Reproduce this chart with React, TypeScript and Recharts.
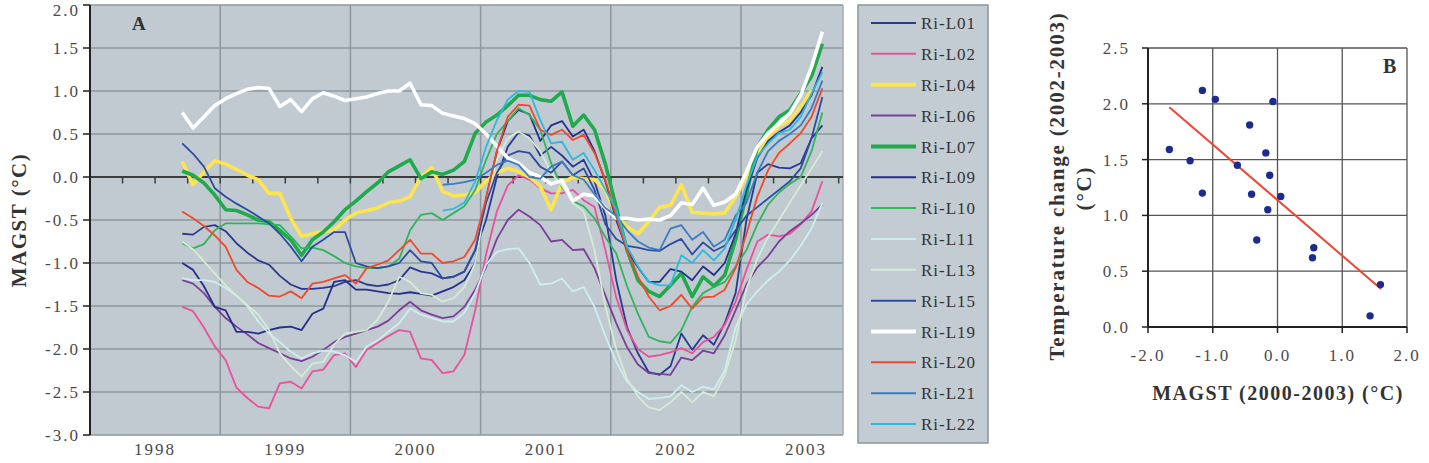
import React from 'react';
import {
  LineChart, Line, XAxis, YAxis, CartesianGrid, ReferenceLine,
  ScatterChart, Scatter,
} from 'recharts';

const serif = "'Liberation Serif', 'Times New Roman', serif";

// ---- Panel A: monthly running means, Sep 1998 - Aug 2003 ----
// x axis counts months from Jan 1998, a month is drawn at its centre
const firstMonth = 8; // Sep 1998
const monthCount = 60;
const yearTicks = [6, 18, 30, 42, 54, 66];
const yearLabels = ['1998', '1999', '2000', '2001', '2002', '2003'];
const yearBounds = [12, 24, 36, 48, 60];
const quarterTicks = [3, 6, 9, 12, 15, 18, 21, 24, 27, 30, 33, 36, 39, 42, 45, 48, 51, 54, 57, 60, 63, 66, 69];
const magstTicks = [-3, -2.5, -2, -1.5, -1, -0.5, 0, 0.5, 1, 1.5, 2];

const riL01 = [
  -0.66, -0.67, -0.58, -0.56, -0.63, -0.77, -0.88, -0.97, -1.02, -1.15, -1.25, -1.30,
  -1.30, -1.29, -1.27, -1.22, -1.20, -1.25, -1.27, -1.25, -1.20, -1.05, -1.10, -1.12,
  -1.18, -1.16, -1.10, -0.85, -0.50, 0.00, 0.35, 0.52, 0.48, 0.25, 0.35, 0.25,
  0.12, 0.20, -0.05, -0.45, -1.20, -1.75, -2.05, -2.27, -2.30, -2.20, -1.82, -2.01,
  -1.84, -1.95, -1.70, -1.35, -0.50, 0.05, 0.15, 0.11, 0.10, 0.16, 0.45, 0.60,
];
const riL02 = [
  -1.51, -1.56, -1.75, -1.97, -2.13, -2.45, -2.57, -2.67, -2.69, -2.40, -2.38, -2.46,
  -2.26, -2.24, -2.07, -2.05, -2.21, -2.01, -1.93, -1.85, -1.78, -1.80, -2.11, -2.13,
  -2.28, -2.26, -2.07, -1.55, -0.90, -0.40, -0.10, 0.02, -0.03, -0.13, -0.19, -0.19,
  -0.15, -0.27, -0.35, -0.85, -1.40, -1.78, -2.00, -2.09, -2.07, -2.04, -1.99, -2.05,
  -1.92, -1.86, -1.72, -1.45, -1.08, -0.75, -0.67, -0.69, -0.66, -0.55, -0.40, -0.05,
];
const riL04 = [
  0.18, -0.09, 0.06, 0.19, 0.15, 0.09, 0.02, -0.03, -0.19, -0.19, -0.48, -0.69,
  -0.66, -0.63, -0.62, -0.50, -0.42, -0.39, -0.36, -0.30, -0.28, -0.23, 0.00, 0.11,
  -0.17, -0.22, -0.21, -0.18, -0.05, 0.05, 0.10, 0.06, 0.00, -0.11, -0.38, -0.07,
  0.00, -0.02, -0.03, -0.15, -0.45, -0.58, -0.66, -0.52, -0.35, -0.33, -0.09, -0.41,
  -0.42, -0.43, -0.42, -0.23, 0.00, 0.24, 0.47, 0.59, 0.66, 0.82, 1.01,
];
const riL06 = [
  -1.20, -1.24, -1.35, -1.51, -1.64, -1.74, -1.83, -1.93, -1.99, -2.05, -2.11, -2.14,
  -2.09, -2.01, -1.92, -1.86, -1.82, -1.78, -1.74, -1.67, -1.55, -1.45, -1.55, -1.60,
  -1.64, -1.62, -1.51, -1.31, -1.05, -0.72, -0.50, -0.38, -0.46, -0.56, -0.75, -0.73,
  -0.85, -0.84, -1.06, -1.38, -1.70, -1.98, -2.18, -2.28, -2.29, -2.30, -2.10, -2.13,
  -2.02, -2.05, -1.84, -1.55, -1.25, -1.05, -0.92, -0.75, -0.63, -0.54, -0.44, -0.32,
];
const riL07 = [
  0.07, 0.02, -0.07, -0.21, -0.38, -0.39, -0.44, -0.50, -0.52, -0.62, -0.73, -0.91,
  -0.73, -0.64, -0.52, -0.38, -0.28, -0.17, -0.07, 0.06, 0.13, 0.20, -0.02, 0.06,
  0.03, 0.08, 0.18, 0.51, 0.64, 0.72, 0.83, 0.95, 0.95, 0.90, 0.88, 0.99,
  0.59, 0.72, 0.55, 0.15, -0.35, -0.85, -1.20, -1.33, -1.39, -1.26, -1.12, -1.39,
  -1.16, -1.27, -1.14, -0.73, -0.20, 0.35, 0.55, 0.70, 0.78, 0.97, 1.17, 1.55,
];
const riL09 = [
  -1.00, -1.08, -1.27, -1.51, -1.55, -1.80, -1.80, -1.82, -1.78, -1.75, -1.74, -1.78,
  -1.59, -1.53, -1.22, -1.20, -1.31, -1.31, -1.33, -1.35, -1.36, -1.34, -1.36, -1.38,
  -1.33, -1.28, -1.20, -1.00, -0.25, 0.30, 0.65, 0.78, 0.73, 0.42, 0.60, 0.65,
  0.47, 0.55, 0.30, -0.05, -0.50, -0.85, -1.05, -1.22, -1.22, -1.07, -1.10, -1.20,
  -1.04, -1.14, -1.00, -0.66, -0.15, 0.22, 0.42, 0.52, 0.60, 0.75, 0.95, 1.28,
];
const riL10 = [
  -0.77, -0.83, -0.78, -0.62, -0.54, -0.54, -0.54, -0.54, -0.55, -0.56, -0.69, -0.83,
  -0.82, -0.85, -0.92, -1.00, -1.04, -1.06, -1.06, -1.04, -0.95, -0.62, -0.44, -0.42,
  -0.50, -0.42, -0.34, -0.15, 0.20, 0.50, 0.65, 0.80, 0.72, 0.55, 0.16, -0.12,
  -0.28, -0.34, -0.48, -0.70, -0.89, -1.27, -1.59, -1.86, -1.91, -1.93, -1.78, -1.51,
  -1.35, -1.28, -1.22, -1.04, -0.85, -0.55, -0.32, -0.18, -0.08, 0.00, 0.30, 0.75,
];
const riL11 = [
  -1.18, -1.20, -1.20, -1.22, -1.29, -1.38, -1.50, -1.68, -1.82, -1.92, -2.03, -2.11,
  -2.05, -2.02, -2.03, -2.07, -2.15, -1.97, -1.90, -1.80, -1.70, -1.53, -1.60, -1.64,
  -1.68, -1.68, -1.58, -1.35, -1.02, -0.87, -0.84, -0.83, -1.00, -1.25, -1.24, -1.18,
  -1.33, -1.28, -1.51, -1.85, -2.15, -2.38, -2.50, -2.58, -2.57, -2.55, -2.42, -2.50,
  -2.44, -2.47, -2.25, -1.75, -1.48, -1.33, -1.20, -1.10, -0.97, -0.80, -0.60, -0.30,
];
const riL13 = [
  -0.75, -0.84, -0.98, -1.12, -1.26, -1.38, -1.49, -1.60, -1.78, -2.05, -2.20, -2.32,
  -2.17, -2.15, -1.95, -1.82, -1.80, -1.78, -1.66, -1.45, -1.16, -1.22, -1.35, -1.37,
  -1.45, -1.41, -1.28, -1.00, -0.30, 0.20, 0.45, 0.53, 0.45, 0.30, 0.05, -0.10,
  -0.30, -0.40, -0.85, -1.50, -2.00, -2.35, -2.55, -2.68, -2.71, -2.62, -2.50, -2.62,
  -2.50, -2.55, -2.30, -1.90, -1.30, -0.95, -0.70, -0.50, -0.30, -0.10, 0.10, 0.30,
];
const riL15 = [
  0.39, 0.27, 0.12, -0.13, -0.23, -0.31, -0.38, -0.46, -0.54, -0.66, -0.81, -0.98,
  -0.81, -0.73, -0.64, -0.64, -1.00, -1.04, -1.06, -1.04, -1.00, -0.85, -0.98, -1.00,
  -1.18, -1.16, -1.10, -0.85, -0.30, 0.05, 0.25, 0.30, 0.28, 0.12, 0.05, 0.18,
  0.02, 0.10, -0.15, -0.55, -0.72, -0.80, -0.82, -0.85, -0.86, -0.78, -0.72, -0.90,
  -0.76, -0.86, -0.80, -0.62, -0.45, -0.35, -0.25, -0.15, -0.05, 0.10, 0.45, 0.93,
];
const riL19 = [
  0.75, 0.57, 0.70, 0.83, 0.91, 0.97, 1.02, 1.04, 1.03, 0.82, 0.90, 0.76,
  0.91, 0.98, 0.94, 0.89, 0.91, 0.93, 0.97, 1.00, 1.00, 1.09, 0.84, 0.83,
  0.74, 0.71, 0.68, 0.62, 0.50, 0.36, 0.22, 0.16, 0.05, 0.00, -0.08, -0.04,
  -0.28, -0.20, -0.22, -0.36, -0.48, -0.48, -0.50, -0.49, -0.50, -0.45, -0.30, -0.32,
  -0.13, -0.33, -0.29, -0.20, 0.06, 0.35, 0.51, 0.62, 0.74, 0.95, 1.28, 1.69,
];
const riL20 = [
  -0.40, -0.48, -0.57, -0.68, -0.81, -1.08, -1.22, -1.29, -1.38, -1.39, -1.33, -1.41,
  -1.24, -1.22, -1.18, -1.14, -1.24, -1.06, -1.02, -0.97, -0.85, -0.73, -0.89, -0.89,
  -1.00, -0.98, -0.93, -0.73, -0.25, 0.30, 0.70, 0.84, 0.83, 0.55, 0.49, 0.55,
  0.43, 0.49, 0.28, -0.03, -0.46, -0.85, -1.16, -1.39, -1.55, -1.50, -1.37, -1.53,
  -1.40, -1.39, -1.31, -1.06, -0.66, -0.23, 0.08, 0.28, 0.39, 0.51, 0.70, 1.03,
];
// Ri-L21 and Ri-L22 only start with the Sep 1999 + 16 months value (Jan 2000)
const riL21 = [
  -0.09, -0.08, -0.06, -0.03, 0.05, 0.14, 0.19, 0.14, 0.00, -0.02, 0.12, 0.18,
  0.02, -0.03, -0.20, -0.36, -0.45, -0.62, -0.75, -0.82, -0.85, -0.60, -0.56, -0.73,
  -0.64, -0.81, -0.73, -0.45, -0.30, 0.05, 0.30, 0.42, 0.50, 0.60, 0.80, 1.12,
];
const riL22 = [
  -0.39, -0.37, -0.30, -0.05, 0.35, 0.66, 0.90, 1.00, 0.99, 0.66, 0.39, 0.41,
  0.20, 0.28, 0.08, -0.15, -0.38, -0.81, -1.04, -1.22, -1.26, -1.26, -0.91, -1.00,
  -0.85, -0.97, -0.83, -0.50, -0.10, 0.24, 0.39, 0.51, 0.55, 0.70, 0.97, 1.22,
];

const seriesA = [
  { name: 'Ri-L01', values: riL01, start: 0, color: '#2b3990', width: 1.8 },
  { name: 'Ri-L02', values: riL02, start: 0, color: '#ec4f9c', width: 1.8 },
  { name: 'Ri-L04', values: riL04, start: 0, color: '#fde54e', width: 3.6 },
  { name: 'Ri-L06', values: riL06, start: 0, color: '#7a3f98', width: 1.8 },
  { name: 'Ri-L07', values: riL07, start: 0, color: '#1faa4b', width: 3.6 },
  { name: 'Ri-L09', values: riL09, start: 0, color: '#252f8c', width: 1.8 },
  { name: 'Ri-L10', values: riL10, start: 0, color: '#30b45c', width: 1.8 },
  { name: 'Ri-L11', values: riL11, start: 0, color: '#cdeef0', width: 1.8 },
  { name: 'Ri-L13', values: riL13, start: 0, color: '#d4ebd4', width: 1.8 },
  { name: 'Ri-L15', values: riL15, start: 0, color: '#2f4ba0', width: 1.8 },
  { name: 'Ri-L19', values: riL19, start: 0, color: '#ffffff', width: 3.6 },
  { name: 'Ri-L20', values: riL20, start: 0, color: '#ef4a2b', width: 1.8 },
  { name: 'Ri-L21', values: riL21, start: 24, color: '#3a7cc3', width: 1.8 },
  { name: 'Ri-L22', values: riL22, start: 24, color: '#2cb9dc', width: 1.8 },
];

const rowsA = Array.from({ length: monthCount }, (_, i) => {
  const row: Record<string, number | null> = { m: firstMonth + i + 0.5 };
  seriesA.forEach((s) => {
    const v = s.values[i - s.start];
    row[s.name] = v === undefined ? null : v;
  });
  return row;
});

// ---- Panel B: one point per logger ----
const magst0003 = [-1.67, -1.35, -1.16, -0.96, -1.16, -0.62, -0.43, -0.40, -0.32, -0.18, -0.12, -0.15, -0.07, 0.05, 0.56, 0.54, 1.59, 1.43];
const change0203 = [1.59, 1.49, 2.12, 2.04, 1.20, 1.45, 1.81, 1.19, 0.78, 1.56, 1.36, 1.05, 2.02, 1.17, 0.71, 0.62, 0.38, 0.10];
const trendEnds = [{ x: -1.67, y: 1.97 }, { x: 1.6, y: 0.34 }];
const bxTicks = [-2, -1, 0, 1, 2];
const byTicks = [0, 0.5, 1, 1.5, 2, 2.5];

const pointsB = magst0003.map((x, i) => ({ x, y: change0203[i] }));

const tickStyle = { fontSize: 17, fill: '#4a4a4a', fontFamily: serif, letterSpacing: 2 };
const gridA = '#8d989e';

const titleStyle: React.CSSProperties = {
  position: 'absolute',
  fontFamily: serif,
  fontWeight: 'bold',
  fontSize: 20,
  letterSpacing: 1.5,
  color: '#333',
  whiteSpace: 'nowrap',
  lineHeight: 1,
};

const Legend = () => (
  <svg width={134} height={442} style={{ position: 'absolute', left: 857, top: 4 }}>
    <rect x={1} y={1} width={130} height={438} fill="#c2ccd2" stroke="#8c969b" strokeWidth={1.5} />
    {seriesA.map((s, k) => {
      const y = 19 + k * 30.85;
      return (
        <g key={s.name}>
          <line x1={14} x2={59} y1={y} y2={y} stroke={s.color} strokeWidth={s.width > 3 ? 4 : 2} />
          <text x={64} y={y} dy="0.36em" fontFamily={serif} fontSize={17} letterSpacing={1} fill="#333">
            {s.name}
          </text>
        </g>
      );
    })}
  </svg>
);

export default function App() {
  return (
    <div style={{ position: 'absolute', left: 0, top: 0, width: 1429, height: 463, background: '#fff', overflow: 'hidden' }}>
      <div style={{ position: 'absolute', left: 0, top: 0 }}>
        <LineChart width={850} height={463} data={rowsA} margin={{ top: 5, right: 7, bottom: 0, left: 0 }}>
          <CartesianGrid horizontal vertical={false} stroke={gridA} strokeWidth={1.5} fill="#c0cad0" />
          <XAxis
            type="number"
            dataKey="m"
            domain={[0, 69.4]}
            ticks={yearTicks}
            tickFormatter={(v: number) => yearLabels[yearTicks.indexOf(v)]}
            axisLine={false}
            tickLine={false}
            tickSize={0}
            tickMargin={8}
            height={28}
            tick={tickStyle}
            allowDataOverflow
          />
          <YAxis
            type="number"
            domain={[-3, 2]}
            ticks={magstTicks}
            tickFormatter={(v: number) => v.toFixed(1)}
            width={90}
            axisLine={{ stroke: '#222', strokeWidth: 2 }}
            tickLine={{ stroke: '#222', strokeWidth: 1.5 }}
            tickSize={7}
            tickMargin={3}
            tick={tickStyle}
            allowDataOverflow
          />
          {yearBounds.map((x) => (
            <ReferenceLine key={x} x={x} stroke={gridA} strokeWidth={1.5} />
          ))}
          <ReferenceLine x={69.4} stroke="#a2adb2" strokeWidth={1.5} />
          <ReferenceLine y={0} stroke="#3d3d3d" strokeWidth={2} />
          {quarterTicks.map((x) => (
            <ReferenceLine key={'q' + x} segment={[{ x, y: 0 }, { x, y: -0.075 }]} stroke="#3d3d3d" strokeWidth={1.5} />
          ))}
          {seriesA.map((s) => (
            <Line
              key={s.name}
              type="linear"
              dataKey={s.name}
              stroke={s.color}
              strokeWidth={s.width}
              strokeLinejoin="round"
              dot={false}
              activeDot={false}
              isAnimationActive={false}
            />
          ))}
        </LineChart>
      </div>

      <div style={{ ...titleStyle, fontSize: 21, left: 19, top: 220, transform: 'translate(-50%, -50%) rotate(-90deg)' }}>
        MAGST (°C)
      </div>
      <div style={{ ...titleStyle, left: 132, top: 14, fontSize: 19 }}>A</div>

      <Legend />

      <div style={{ position: 'absolute', left: 1000, top: 0 }}>
        <ScatterChart width={429} height={463} margin={{ top: 48, right: 22, bottom: 96, left: 40 }}>
          <CartesianGrid stroke="#555" strokeWidth={1.3} />
          <XAxis
            type="number"
            dataKey="x"
            domain={[-2, 2]}
            ticks={bxTicks}
            tickFormatter={(v: number) => v.toFixed(1)}
            axisLine={{ stroke: '#222', strokeWidth: 2 }}
            tickLine={{ stroke: '#222', strokeWidth: 1.5 }}
            tickSize={6}
            tickMargin={16}
            height={40}
            tick={tickStyle}
          />
          <YAxis
            type="number"
            dataKey="y"
            domain={[0, 2.5]}
            ticks={byTicks}
            tickFormatter={(v: number) => v.toFixed(1)}
            axisLine={{ stroke: '#222', strokeWidth: 2 }}
            tickLine={{ stroke: '#222', strokeWidth: 1.5 }}
            tickSize={6}
            tickMargin={12}
            width={108}
            tick={tickStyle}
          />
          <ReferenceLine segment={trendEnds} stroke="#ee4632" strokeWidth={2} />
          <Scatter
            data={pointsB}
            isAnimationActive={false}
            shape={(p: any) => <circle cx={p.cx} cy={p.cy} r={3.7} fill="#1e2b8e" />}
          />
        </ScatterChart>
      </div>

      <div style={{ ...titleStyle, fontSize: 21, left: 1057, top: 186, transform: 'translate(-50%, -50%) rotate(-90deg)', letterSpacing: 1.8 }}>
        Temperature change (2002-2003)
      </div>
      <div style={{ ...titleStyle, fontSize: 21, left: 1084, top: 188, transform: 'translate(-50%, -50%) rotate(-90deg)', letterSpacing: 1.8 }}>
        (°C)
      </div>
      <div style={{ ...titleStyle, left: 1278, top: 393, transform: 'translate(-50%, -50%)' }}>
        MAGST (2000-2003) (°C)
      </div>
      <div style={{ ...titleStyle, left: 1383, top: 56, fontSize: 20 }}>B</div>
    </div>
  );
}
